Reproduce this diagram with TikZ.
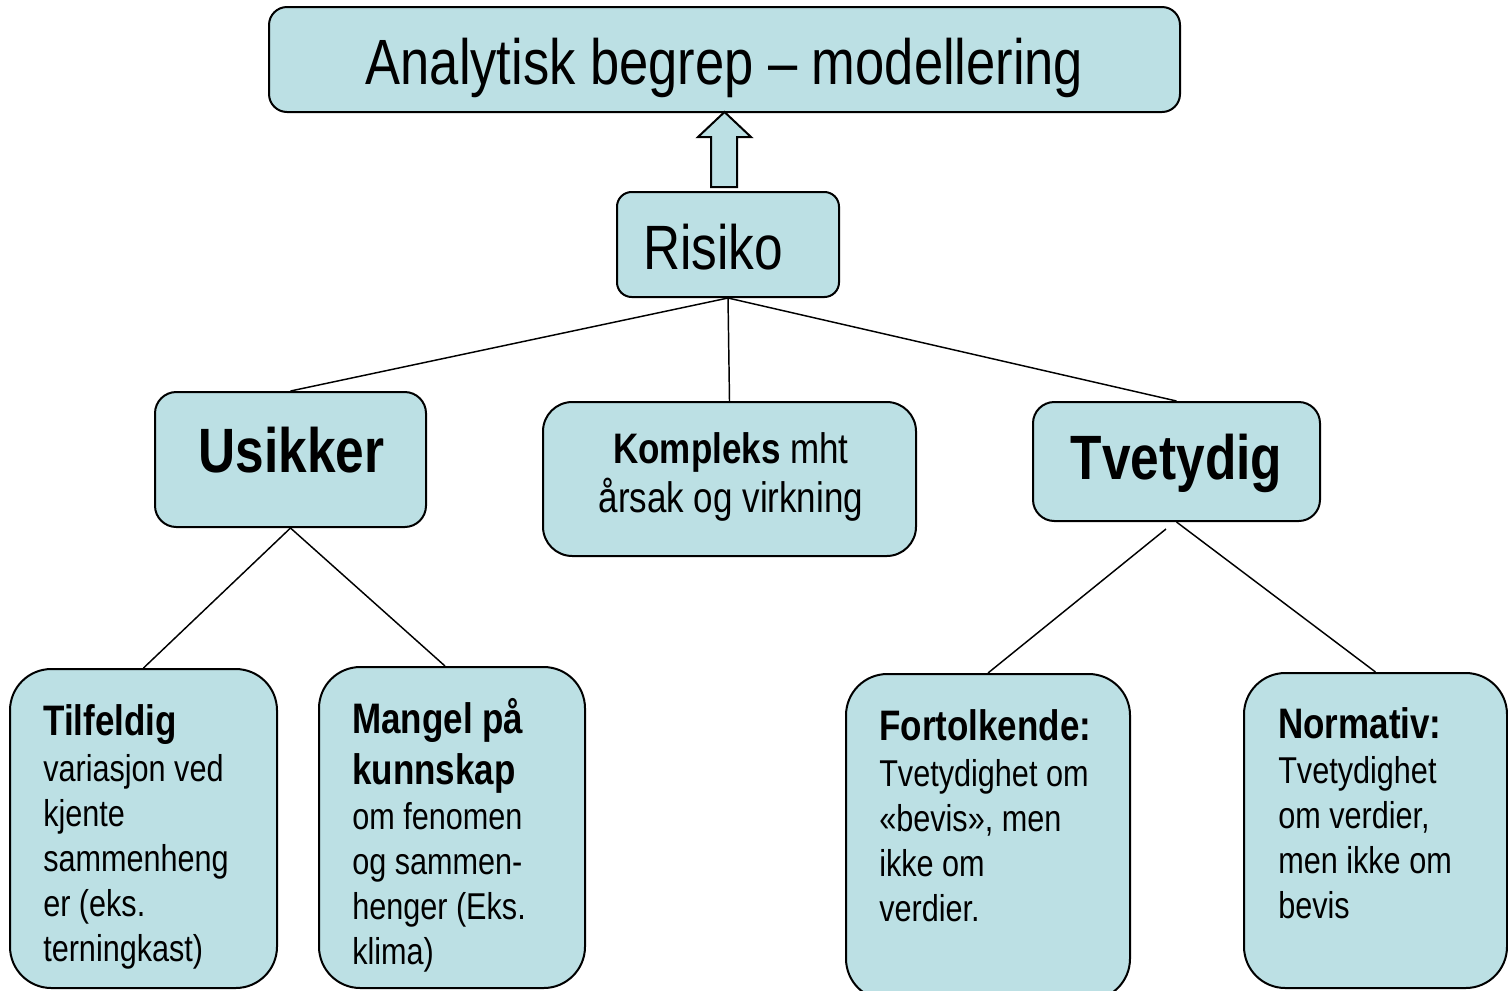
\documentclass[tikz,border=0pt]{standalone}
\usepackage{fontspec}
\setmainfont[FakeStretch=0.82]{Liberation Sans}
\usetikzlibrary{calc}
\definecolor{boxfill}{RGB}{188,224,228}
\tikzset{
  box/.style={draw=black, line width=1.5pt, fill=boxfill, inner sep=0pt},
  conn/.style={draw=black, line width=1.1pt},
  txt/.style={inner sep=0pt, anchor=base west},
  ctxt/.style={inner sep=0pt, anchor=base}
}
\newcommand{\bighead}{\fontsize{32}{38.25}\selectfont\bfseries}
\newcommand{\bodytxt}{\fontsize{28}{33.75}\selectfont\mdseries}
\begin{document}
\begin{tikzpicture}[x=0.75pt,y=-0.75pt]
\useasboundingbox (0,0) rectangle (1508,990);
\clip (0,0) rectangle (1508,990);
% boxes
\node[box, rounded corners=13.5pt, minimum width=683.25pt, minimum height=78.75pt] (title) at (724.5,59.5) {};
\node[box, rounded corners=11pt, minimum width=166.5pt, minimum height=78.75pt] (risiko) at (728,244.5) {};
\node[box, rounded corners=16pt, minimum width=203.25pt, minimum height=101.25pt] (usikker) at (290.5,459.5) {};
\node[box, rounded corners=22pt, minimum width=279.75pt, minimum height=115.5pt] (kompleks) at (729.5,479) {};
\node[box, rounded corners=16pt, minimum width=215.25pt, minimum height=89.25pt] (tvetydig) at (1176.5,461.5) {};
\node[box, rounded corners=31pt, minimum width=200.25pt, minimum height=239.25pt] (tilfeldig) at (143.5,828.5) {};
\node[box, rounded corners=31pt, minimum width=199.5pt, minimum height=240.75pt] (mangel) at (452,827.5) {};
\node[box, rounded corners=31pt, minimum width=213pt, minimum height=244.5pt] (fortolk) at (988,837) {};
\node[box, rounded corners=31pt, minimum width=197.25pt, minimum height=236.25pt] (normativ) at (1375.5,830.5) {};
% block arrow
\draw[line width=1.5pt, fill=boxfill, line join=miter]
  (711,187) -- (711,137) -- (698,137) -- (724.5,112) -- (751,137) -- (737,137) -- (737,187) -- cycle;
% connectors
\draw[conn] (risiko.south) -- (usikker.north);
\draw[conn] (risiko.south) -- (kompleks.north);
\draw[conn] (risiko.south) -- (tvetydig.north);
\draw[conn] (usikker.south) -- (tilfeldig.north);
\draw[conn] (usikker.south) -- ([xshift=-5.25pt]mangel.north);
\draw[conn] ([xshift=-7.9pt,yshift=-5.25pt]tvetydig.south) -- (fortolk.north);
\draw[conn] (tvetydig.south) -- (normativ.north);
% texts
\node[ctxt, font=\fontsize{48}{56}\selectfont] (titletxt) at (724.5,84) {Analytisk begrep – modellering};
\node[ctxt, font=\fontsize{47}{56}\selectfont] (risikotxt) at (713,269) {Risiko};
\node[ctxt, font=\fontsize{47}{56}\selectfont\bfseries] (usikkertxt) at (291.5,472) {Usikker};
\node[ctxt, font=\fontsize{47}{56}\selectfont\bfseries] (tvetydigtxt) at (1176.5,479) {Tvetydig};
\node[txt] (komplekstxt) at (730,463) {\vtop{\fontsize{32}{36.75}\selectfont
  \hbox to 0pt{\hss\textbf{Kompleks} mht\hss}
  \hbox to 0pt{\hss årsak og virkning\hss}}};
\node[txt] (tilfeldigtxt) at (43,735) {\vtop{\bighead\hbox{Tilfeldig}\bodytxt\baselineskip=34.5pt
  \hbox{variasjon ved}\baselineskip=33.75pt\hbox{kjente}\hbox{sammenheng}\hbox{er (eks.}\hbox{terningkast)}}};
\node[txt] (mangeltxt) at (352,733) {\vtop{\bighead\hbox{Mangel på}\hbox{kunnskap}\bodytxt
  \hbox{om fenomen}\hbox{og sammen-}\hbox{henger (Eks.}\hbox{klima)}}};
\node[txt] (fortolktxt) at (879,740) {\vtop{\bighead\hbox{Fortolkende:}\bodytxt\baselineskip=34.5pt
  \hbox{Tvetydighet om}\baselineskip=33.75pt\hbox{«bevis», men}\hbox{ikke om}\hbox{verdier.}}};
\node[txt] (normativtxt) at (1278,738) {\vtop{\bighead\hbox{Normativ:}\bodytxt
  \hbox{Tvetydighet}\hbox{om verdier,}\hbox{men ikke om}\hbox{bevis}}};
\end{tikzpicture}
\end{document}
